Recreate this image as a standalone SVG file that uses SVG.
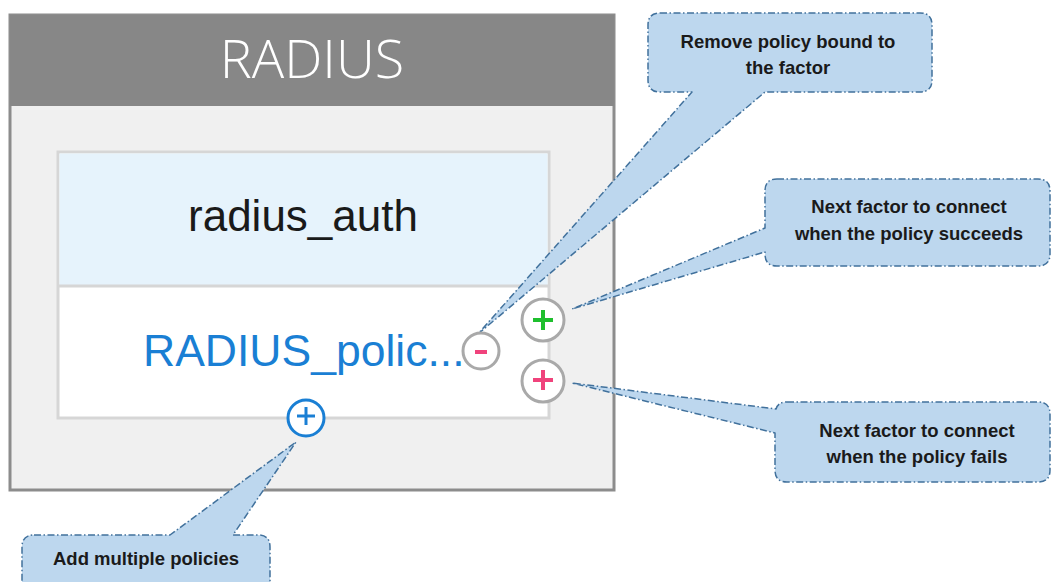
<svg xmlns="http://www.w3.org/2000/svg" width="1052" height="582" viewBox="0 0 1052 582">
  <style>
    .callout { fill: #bdd7ee; stroke: #41719c; stroke-width: 1.5; stroke-dasharray: 7 2.5 1.5 2.5; stroke-linejoin: round; }
    .ctext { font-family: "Liberation Sans", Arial, sans-serif; font-weight: bold; font-size: 18.5px; fill: #1a1a1a; text-anchor: middle; }
    .btn { fill: #ffffff; stroke: #a9a9a9; stroke-width: 3; }
    .sign { stroke-width: 4; stroke-linecap: butt; fill: none; }
  </style>
  <rect width="1052" height="582" fill="#ffffff"/>

  <g id="radius-node">
    <rect x="10" y="15" width="604" height="475" fill="#f0f0f0" stroke="#8c8c8c" stroke-width="3"/>
    <rect x="10" y="15" width="604" height="91" fill="#878787"/>
    <text x="312" y="78" font-family="'Open Sans', 'DejaVu Sans', sans-serif" font-weight="300" font-size="54" fill="#ffffff" text-anchor="middle">RADIUS</text>
  </g>

  <g id="policy-node">
    <rect x="58" y="152" width="491" height="266" fill="#ffffff" stroke="#d6d6d6" stroke-width="3"/>
    <rect x="59.5" y="153.5" width="488" height="132" fill="#e6f3fc"/>
    <line x1="58" y1="286" x2="549" y2="286" stroke="#d6d6d6" stroke-width="3"/>
    <text x="303" y="231" font-family="'Liberation Sans', Arial, sans-serif" font-size="44" fill="#1a1a1a" text-anchor="middle">radius_auth</text>
    <text x="143" y="366" font-family="'Liberation Sans', Arial, sans-serif" font-size="44.5" fill="#1a7fd4">RADIUS_polic...</text>
  </g>

  <g id="connectors">
    <path id="callout-remove" class="callout" d="M660,13 H920 Q932,13 932,25 V80 Q932,92 920,92 H765 L478,334 L692,92 H660 Q648,92 648,80 V25 Q648,13 660,13 Z"/>
    <path id="callout-succeed" class="callout" d="M777,179 H1038 Q1050,179 1050,191 V254 Q1050,266 1038,266 H777 Q765,266 765,254 V252 L572,309 L765,228 V191 Q765,179 777,179 Z"/>
    <path id="callout-fail" class="callout" d="M787,402 H1038 Q1050,402 1050,414 V470 Q1050,482 1038,482 H787 Q775,482 775,470 V433 L572,383 L776,409 Q778,402 787,402 Z"/>
    <path id="callout-add" class="callout" d="M34,535 H170 L296,442 L233,535 H258 Q270,535 270,547 V600 H22 V547 Q22,535 34,535 Z"/>
  </g>

  <g id="label-remove">
    <text class="ctext" x="788" y="48">Remove policy bound to</text>
    <text class="ctext" x="788" y="74">the factor</text>
  </g>
  <g id="label-succeed">
    <text class="ctext" x="909" y="213">Next factor to connect</text>
    <text class="ctext" x="909" y="240">when the policy succeeds</text>
  </g>
  <g id="label-fail">
    <text class="ctext" x="917" y="437">Next factor to connect</text>
    <text class="ctext" x="917" y="463">when the policy fails</text>
  </g>
  <g id="label-add">
    <text class="ctext" x="146" y="565">Add multiple policies</text>
  </g>

  <g id="btn-remove">
    <circle class="btn" cx="481" cy="351" r="18"/>
    <line class="sign" x1="475" y1="352" x2="487" y2="352" stroke="#f0437c"/>
  </g>
  <g id="btn-success">
    <circle class="btn" cx="543" cy="320" r="21"/>
    <line class="sign" x1="533" y1="320" x2="553" y2="320" stroke="#1fbf2e"/>
    <line class="sign" x1="543" y1="310" x2="543" y2="330" stroke="#1fbf2e"/>
  </g>
  <g id="btn-fail">
    <circle class="btn" cx="543" cy="381" r="21"/>
    <line class="sign" x1="533" y1="380" x2="553" y2="380" stroke="#f0437c"/>
    <line class="sign" x1="543" y1="370" x2="543" y2="390" stroke="#f0437c"/>
  </g>
  <g id="btn-add">
    <circle cx="306" cy="418" r="18" fill="#ffffff" stroke="#1a7fd4" stroke-width="3"/>
    <line x1="297" y1="416" x2="315" y2="416" stroke="#1a7fd4" stroke-width="3"/>
    <line x1="306" y1="407" x2="306" y2="425" stroke="#1a7fd4" stroke-width="3"/>
  </g>
</svg>
